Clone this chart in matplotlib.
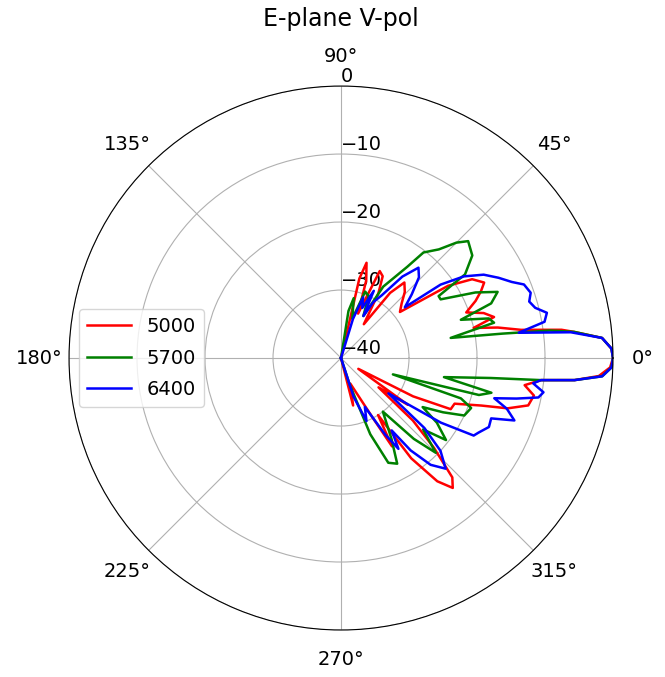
import numpy as np
import matplotlib
matplotlib.use('Agg')
import matplotlib.pyplot as plt

plt.rcParams['font.size'] = 14

# 方向图数据 (角度 deg, 增益 dB)
ang_5000 = [-90, -78, -75.7, -70, -62, -60, -57, -55, -52, -49.3, -47, -44, -41, -38, -35, -32, -28, -25,
            -21.9, -18.7, -16.8, -14.2, -11, -8.4, -6.3, -5.4, -4, -2, 0, 2, 4.4, 6.4, 7.3, 8.9, 11, 12.8,
            15, 17.5, 20, 23, 25.5, 27.8, 31, 34, 38, 42, 46, 50, 53, 56, 60, 63, 66, 69, 72, 75, 77, 80, 90]
db_5000 = [-40, -40, -32.8, -36, -30, -25, -30, -22, -17, -14.8, -16, -21, -26, -33, -28, -37, -28, -22.2,
           -22, -18.2, -14.4, -11.6, -11.1, -12.7, -10.4, -5.5, -2, -0.4, 0, -0.2, -1.5, -5.5, -7.3, -13.2, -16.5, -20,
           -16.7, -18, -20.4, -18.5, -17.2, -16.2, -17.5, -21, -29, -28, -26.5, -25.5, -28, -34, -29, -26.5, -26, -33, -28, -25.5, -28, -40, -40]

ang_5700 = [-90, -76, -72, -69, -65.7, -62, -58, -52, -48, -45, -41, -38, -34, -31, -28, -25, -21, -18.6, -17.5,
            -15, -13, -10.5, -7.6, -6.3, -5.4, -4, -2, 0, 2, 4.4, 6.4, 7.5, 8.6, 10.4, 13, 15, 17.7, 20, 22.9,
            26, 30.5, 32.4, 34, 38, 42.6, 45, 48, 52, 54, 59.4, 62, 66, 70, 74, 78, 81, 84, 90]
db_5700 = [-40, -40, -36, -28, -23.1, -22.4, -26, -30, -24, -20.3, -24, -20.4, -23, -26, -23, -20, -19.5, -21.4, -32,
           -19, -17.3, -24.6, -17.8, -10.4, -5.5, -1.5, -0.2, 0, -0.2, -1.5, -5.5, -9, -16, -23.6, -16.9, -17.5, -21.5, -16.5, -15,
           -18, -23, -23, -18, -15.5, -14.6, -16, -18.5, -20.3, -23.4, -27.8, -33, -30, -29.6, -34, -31, -33, -40, -40]

ang_6400 = [-90, -76, -72, -68, -64, -60, -57.7, -55, -53, -50, -46.6, -43, -40, -36.7, -32.9, -30.3, -28.5, -25,
            -21.9, -19.8, -17, -14.7, -13, -11.3, -9.6, -7.5, -6.3, -5.4, -4, -2, 0, 2, 4.4, 6.4, 8.1, 10.1, 12.4,
            14.5, 16.7, 19, 21.9, 24, 27, 30.3, 33.6, 36.4, 38.5, 42, 46, 49.4, 53, 57, 60, 62, 64, 67, 70, 73, 76, 90]
db_6400 = [-40, -40, -34, -30, -32, -27, -24.2, -27, -23, -19.5, -17.6, -20, -24, -31.3, -22.5, -17.4, -17, -16,
           -16.2, -12.9, -14.5, -16.7, -13.5, -10.4, -9.8, -11.5, -10.4, -5.5, -1.5, -0.2, 0, -0.2, -1.5, -6, -13.6, -9.6, -9,
           -10.5, -11.1, -10.5, -11, -12.5, -14, -15.7, -18.3, -21.8, -28, -26, -23.5, -22.5, -25, -29, -30.5, -33, -29, -32, -30.5, -34, -40, -40]

labels = ['5000', '5700', '6400']
colors = ['r', 'g', 'b']

fig = plt.figure(figsize=(6.65, 6.77), dpi=100)
ax = fig.add_axes([0.1038, 0.0694, 0.818, 0.8035], projection='polar')

for ang, db, lab, c in zip([ang_5000, ang_5700, ang_6400], [db_5000, db_5700, db_6400], labels, colors):
    ax.plot(np.deg2rad(ang), db, color=c, linewidth=1.8, label=lab)

ax.set_ylim(-40, 0)
ax.set_yticks([-40, -30, -20, -10, 0])
ax.set_rlabel_position(90)
ax.tick_params(axis='x', pad=11)
ax.grid(True)
ax.legend(loc='center left', handlelength=2.3, labelspacing=0.65)

# 标题固定在图顶部
fig.text(0.512, 1 - 19 / 677, 'E-plane V-pol', fontsize=17, ha='center', va='center')

plt.savefig('out.png', dpi=100)
